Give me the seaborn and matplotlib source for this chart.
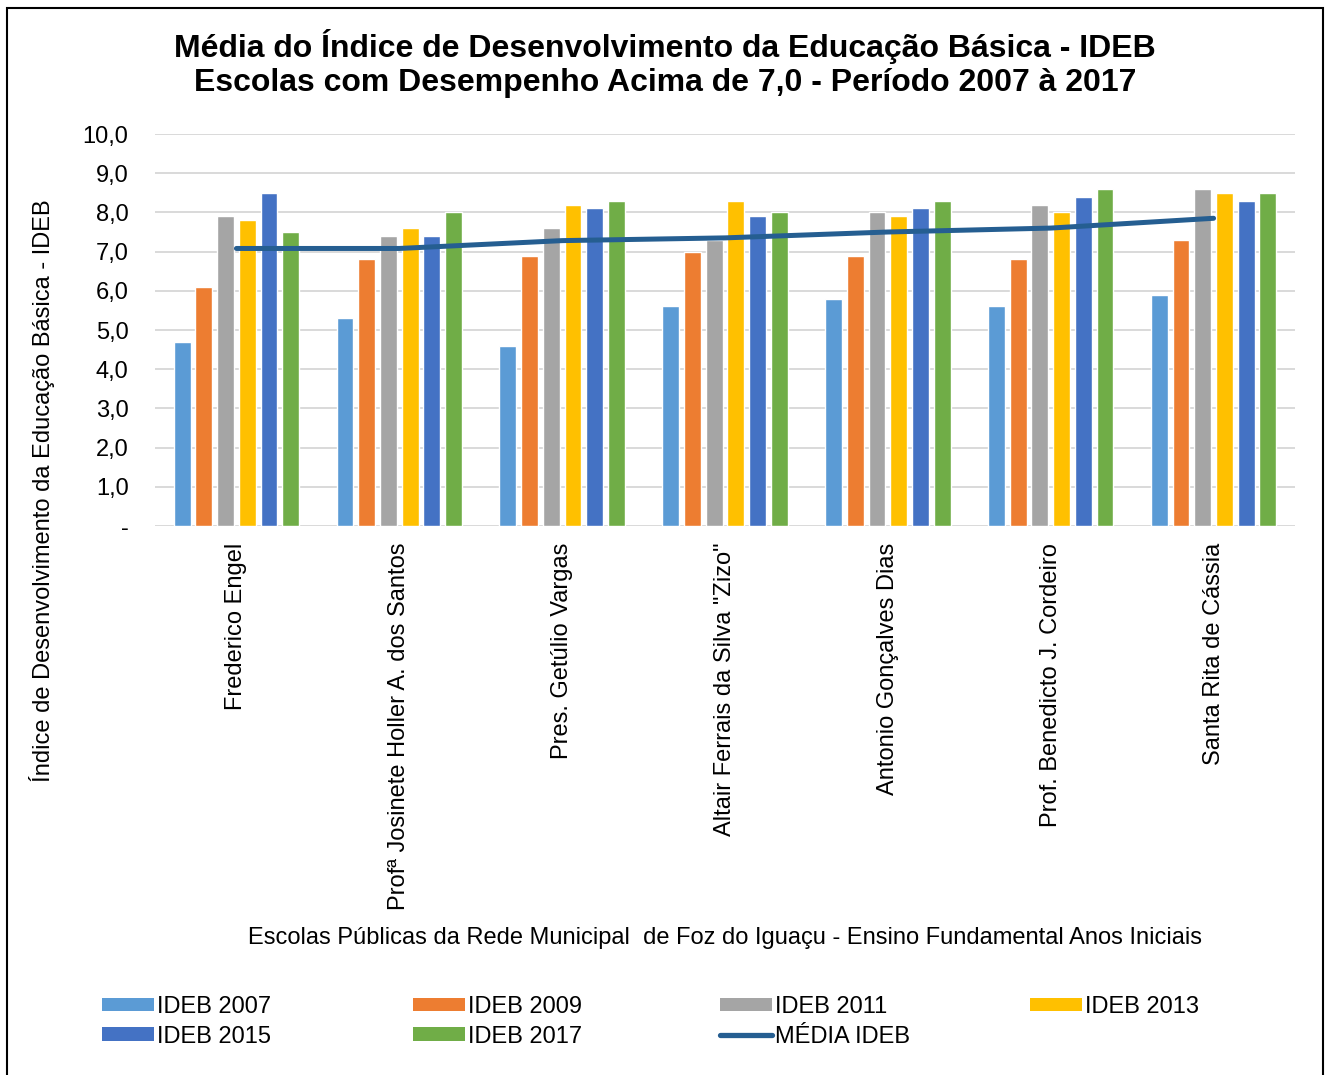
import numpy as np
import pandas as pd
import seaborn as sns
import matplotlib.pyplot as plt
from matplotlib.patches import Patch, Rectangle
from matplotlib.lines import Line2D

escolas = ["Frederico Engel", "Profª Josinete Holler A. dos Santos", "Pres. Getúlio Vargas",
           'Altair Ferrais da Silva "Zizo"', "Antonio Gonçalves Dias",
           "Prof. Benedicto J. Cordeiro", "Santa Rita de Cássia"]
series = ["IDEB 2007", "IDEB 2009", "IDEB 2011", "IDEB 2013", "IDEB 2015", "IDEB 2017"]
ideb_2007 = [4.7, 5.3, 4.6, 5.6, 5.8, 5.6, 5.9]
ideb_2009 = [6.1, 6.8, 6.9, 7.0, 6.9, 6.8, 7.3]
ideb_2011 = [7.9, 7.4, 7.6, 7.3, 8.0, 8.2, 8.6]
ideb_2013 = [7.8, 7.6, 8.2, 8.3, 7.9, 8.0, 8.5]
ideb_2015 = [8.5, 7.4, 8.1, 7.9, 8.1, 8.4, 8.3]
ideb_2017 = [7.5, 8.0, 8.3, 8.0, 8.3, 8.6, 8.5]
media_ideb = [7.08, 7.08, 7.28, 7.35, 7.5, 7.6, 7.85]
yticks = [0, 1, 2, 3, 4, 5, 6, 7, 8, 9, 10]
ylabels = ["-", "1,0", "2,0", "3,0", "4,0", "5,0", "6,0", "7,0", "8,0", "9,0", "10,0"]

cores = ["#5B9BD5", "#ED7D31", "#A5A5A5", "#FFC000", "#4472C4", "#70AD47"]
cor_media = "#255E91"

valores = [ideb_2007, ideb_2009, ideb_2011, ideb_2013, ideb_2015, ideb_2017]
df = pd.DataFrame({
    "escola": [e for _ in series for e in escolas],
    "serie": [s for s in series for _ in escolas],
    "valor": [v for vals in valores for v in vals],
})

sns.set_style("white")
plt.rcParams["font.family"] = ["Liberation Sans", "DejaVu Sans"]
plt.rcParams["text.color"] = "black"
plt.rcParams["xtick.color"] = "black"
plt.rcParams["ytick.color"] = "black"

fs = 17

fig = plt.figure(figsize=(13.3, 10.75), dpi=100)
ax = fig.add_axes([155 / 1330, 1 - 526 / 1075, 1140 / 1330, 392 / 1075])

sns.barplot(data=df, x="escola", y="valor", hue="serie", hue_order=series,
            palette=cores, saturation=1, width=0.8, gap=0.22, errorbar=None,
            legend=False, ax=ax, zorder=2)
sns.lineplot(x=np.arange(len(escolas)), y=media_ideb, color=cor_media, lw=3.6,
             ax=ax, zorder=3, solid_capstyle="round")

ax.set_xlim(-0.5, len(escolas) - 0.5)
ax.set_ylim(0, 10)
ax.set_yticks(yticks)
ax.set_yticklabels(ylabels)
ax.yaxis.grid(True, color="#D9D9D9", lw=1.4)
ax.set_axisbelow(True)
for s in ax.spines.values():
    s.set_visible(False)
ax.tick_params(axis="y", length=0, pad=19, labelsize=fs)
ax.tick_params(axis="x", length=0, pad=12, labelsize=fs, labelrotation=90)
ax.set_xlabel("")
ax.set_ylabel("")

fig.text(665 / 1330, 1 - 47 / 1075, "Média do Índice de Desenvolvimento da Educação Básica - IDEB",
         ha="center", va="center", fontsize=23, fontweight="bold")
fig.text(665 / 1330, 1 - 83 / 1075, "Escolas com Desempenho Acima de 7,0 - Período 2007 à 2017",
         ha="center", va="center", fontsize=23, fontweight="bold")
fig.text(42 / 1330, 1 - 491 / 1075, "Índice de Desenvolvimento da Educação Básica - IDEB",
         rotation=90, ha="center", va="center", fontsize=fs)
fig.text(725 / 1330, 1 - 938 / 1075,
         "Escolas Públicas da Rede Municipal  de Foz do Iguaçu - Ensino Fundamental Anos Iniciais",
         ha="center", va="center", fontsize=fs)

# legenda em 4 colunas, como no Excel
h = [Patch(facecolor=c, edgecolor="none") for c in cores]
h_media = Line2D([0], [0], color=cor_media, lw=3.8, solid_capstyle="round")
colunas = [([h[0], h[4]], [series[0], series[4]]),
           ([h[1], h[5]], [series[1], series[5]]),
           ([h[2], h_media], [series[2], "MÉDIA IDEB"]),
           ([h[3]], [series[3]])]
xs = [102, 413, 720, 1030]
for (hs, labs), x in zip(colunas, xs):
    fig.legend(hs, labs, loc="upper left", bbox_to_anchor=(x / 1330, 1 - 996 / 1075),
               frameon=False, fontsize=fs, handlelength=52 / 23.6, handleheight=12 / 23.6,
               handletextpad=0.12, labelspacing=0.32, borderpad=0, borderaxespad=0)

fig.patches.append(Rectangle((7 / 1330, -0.02), 1316 / 1330, 1.02 - 8 / 1075,
                             transform=fig.transFigure, fill=False, edgecolor="black", lw=1.5))

fig.savefig("out.png", dpi=100)
